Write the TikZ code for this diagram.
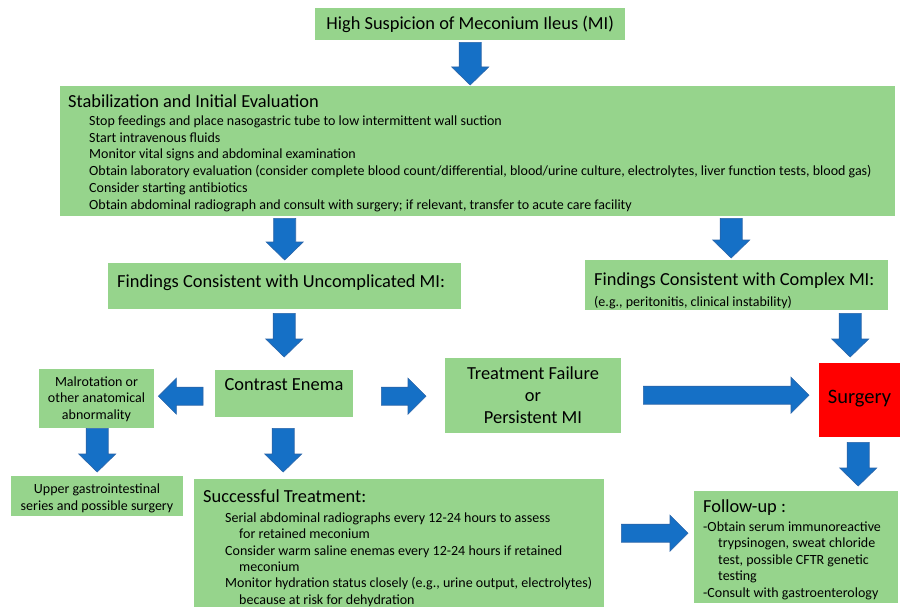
\documentclass[tikz,border=0pt]{standalone}
\usepackage{fontspec}
\setmainfont{Carlito}
\usetikzlibrary{calc}
\definecolor{boxgreen}{HTML}{96D48C}
\definecolor{arrowblue}{HTML}{1570C6}
\definecolor{arrowedge}{HTML}{2A64A8}
\definecolor{surgred}{HTML}{FF0000}
\newcommand\dnarrow[2]{\draw[blockarrow] let \p1=(#1),\p2=(#2) in
  (\x2-11pt,\y1) -- (\x2-11pt,\y2+18pt) -- (\x2-18.5pt,\y2+18pt) -- (\x2,\y2) --
  (\x2+18.5pt,\y2+18pt) -- (\x2+11pt,\y2+18pt) -- (\x2+11pt,\y1) -- cycle;}
\newcommand\rtarrow[2]{\draw[blockarrow] let \p1=(#1),\p2=(#2) in
  (\x1,\y2-9pt) -- (\x2-18pt,\y2-9pt) -- (\x2-18pt,\y2-18pt) -- (\x2,\y2) --
  (\x2-18pt,\y2+18pt) -- (\x2-18pt,\y2+9pt) -- (\x1,\y2+9pt) -- cycle;}
\newcommand\lfarrow[2]{\draw[blockarrow] let \p1=(#1),\p2=(#2) in
  (\x1,\y2-9pt) -- (\x2+18pt,\y2-9pt) -- (\x2+18pt,\y2-18pt) -- (\x2,\y2) --
  (\x2+18pt,\y2+18pt) -- (\x2+18pt,\y2+9pt) -- (\x1,\y2+9pt) -- cycle;}
\begin{document}
\begin{tikzpicture}[x=1pt,y=-1pt,
  box/.style={fill=boxgreen, draw=none, anchor=north west, inner sep=0pt},
  blockarrow/.style={fill=arrowblue, draw=arrowedge, line width=0.6pt, line join=miter},
  bigtext/.style={font=\fontsize{18.4}{22}\selectfont},
  midtext/.style={font=\fontsize{14}{16.5}\selectfont},
  smalltext/.style={font=\fontsize{14}{16.8}\selectfont},
  txt/.style={anchor=base west, inner sep=0pt, align=left},
  ctxt/.style={anchor=base, inner sep=0pt, align=center}]
\useasboundingbox (0,0) rectangle (900,607);
\fill[white] (0,0) rectangle (900,607);
% boxes
\node[box, minimum width=310pt, minimum height=32pt, bigtext] (top) at (315,8) {High Suspicion of Meconium Ileus (MI)};
\node[box, minimum width=835pt, minimum height=130pt] (stab) at (60,86) {};
\node[box, minimum width=353pt, minimum height=46pt] (uncomp) at (108,263) {};
\node[box, minimum width=303pt, minimum height=50pt] (complex) at (585,260) {};
\node[box, minimum width=138pt, minimum height=47pt] (contrast) at (215,370) {};
\node[box, minimum width=115pt, minimum height=59pt] (malrot) at (39,369) {};
\node[box, minimum width=176pt, minimum height=75pt] (treat) at (445,358) {};
\node[box, fill=surgred, minimum width=81pt, minimum height=74pt] (surg) at (819,363) {};
\node[box, minimum width=172pt, minimum height=40pt] (upper) at (11,476) {};
\node[box, minimum width=410pt, minimum height=128pt] (success) at (194,479) {};
\node[box, minimum width=204pt, minimum height=112pt] (follow) at (694,491) {};
% texts (multi-line nodes: base = baseline of last line)
\node[txt, bigtext] (stabT) at (68,107.5) {Stabilization and Initial Evaluation};
\node[txt, smalltext] (stabL) at (89,209.2) {Stop feedings and place nasogastric tube to low intermittent wall suction\\
Start intravenous fluids\\
Monitor vital signs and abdominal examination\\
Obtain laboratory evaluation (consider complete blood count/differential, blood/urine culture, electrolytes, liver function tests, blood gas)\\
Consider starting antibiotics\\
Obtain abdominal radiograph and consult with surgery; if relevant, transfer to acute care facility};
\node[txt, bigtext] (uncompT) at (117,287.5) {Findings Consistent with Uncomplicated MI:};
\node[txt, bigtext] (complexT) at (594,285.5) {Findings Consistent with Complex MI:};
\node[txt, midtext] (complexS) at (594,306) {(e.g., peritonitis, clinical instability)};
\node[ctxt, bigtext] (contrastT) at (284,390.5) {Contrast Enema};
\node[ctxt, midtext] (malrotT) at (96.5,419.2) {Malrotation or\\other anatomical\\abnormality};
\node[ctxt, bigtext] (treatT) at (533,423) {Treatment Failure\\or\\Persistent MI};
\node[ctxt, font=\fontsize{20.5}{24}\selectfont] (surgT) at (859.5,403.5) {Surgery};
\node[ctxt, midtext] (upperT) at (97,510.2) {Upper gastrointestinal\\series and possible surgery};
\node[txt, bigtext] (successT) at (203,502.5) {Successful Treatment:};
\node[txt, font=\fontsize{14}{16.4}\selectfont] (successL) at (225,604.2) {Serial abdominal radiographs every 12-24 hours to assess\\
\hspace*{14pt}for retained meconium\\
Consider warm saline enemas every 12-24 hours if retained\\
\hspace*{14pt}meconium\\
Monitor hydration status closely (e.g., urine output, electrolytes)\\
\hspace*{14pt}because at risk for dehydration};
\node[txt, bigtext] (followT) at (703,512.5) {Follow-up :};
\node[txt, midtext] (followL) at (703,597.2) {-Obtain serum immunoreactive\\
\hspace*{15pt}trypsinogen, sweat chloride\\
\hspace*{15pt}test, possible CFTR genetic\\
\hspace*{15pt}testing\\
-Consult with gastroenterology};
% arrows
\dnarrow{$(top.south)+(0,2)$}{$(top.south |- stab.north)+(0,-1)$}
\dnarrow{$(uncomp.north |- stab.south)+(0,2)$}{$(uncomp.north)+(0,-3)$}
\dnarrow{$(stab.south)+(0,2)$}{$(complex.north)+(-5.5,-2)$}
\dnarrow{$(uncomp.south)+(0,4)$}{$(contrast.north)+(0,-13)$}
\dnarrow{$(complex.south)+(0,3)$}{$(surg.north)+(-9.5,-6)$}
\dnarrow{$(surg.south)+(0,5)$}{$(surg.south |- follow.north)+(-1.5,-5)$}
\dnarrow{$(malrot.south)+(0,0)$}{$(upper.north)+(0,-4)$}
\dnarrow{$(contrast.south)+(0,11)$}{$(contrast.south |- success.north)+(-1,-7)$}
\lfarrow{$(contrast.west)+(-12,0)$}{$(malrot.east)+(4,-2.5)$}
\rtarrow{$(contrast.east)+(28,0)$}{$(treat.west)+(-19,0.5)$}
\rtarrow{$(treat.east)+(22,0)$}{$(surg.west)+(-10,-5)$}
\rtarrow{$(success.east)+(17,0)$}{$(follow.west)+(-6,-14)$}
\end{tikzpicture}
\end{document}
